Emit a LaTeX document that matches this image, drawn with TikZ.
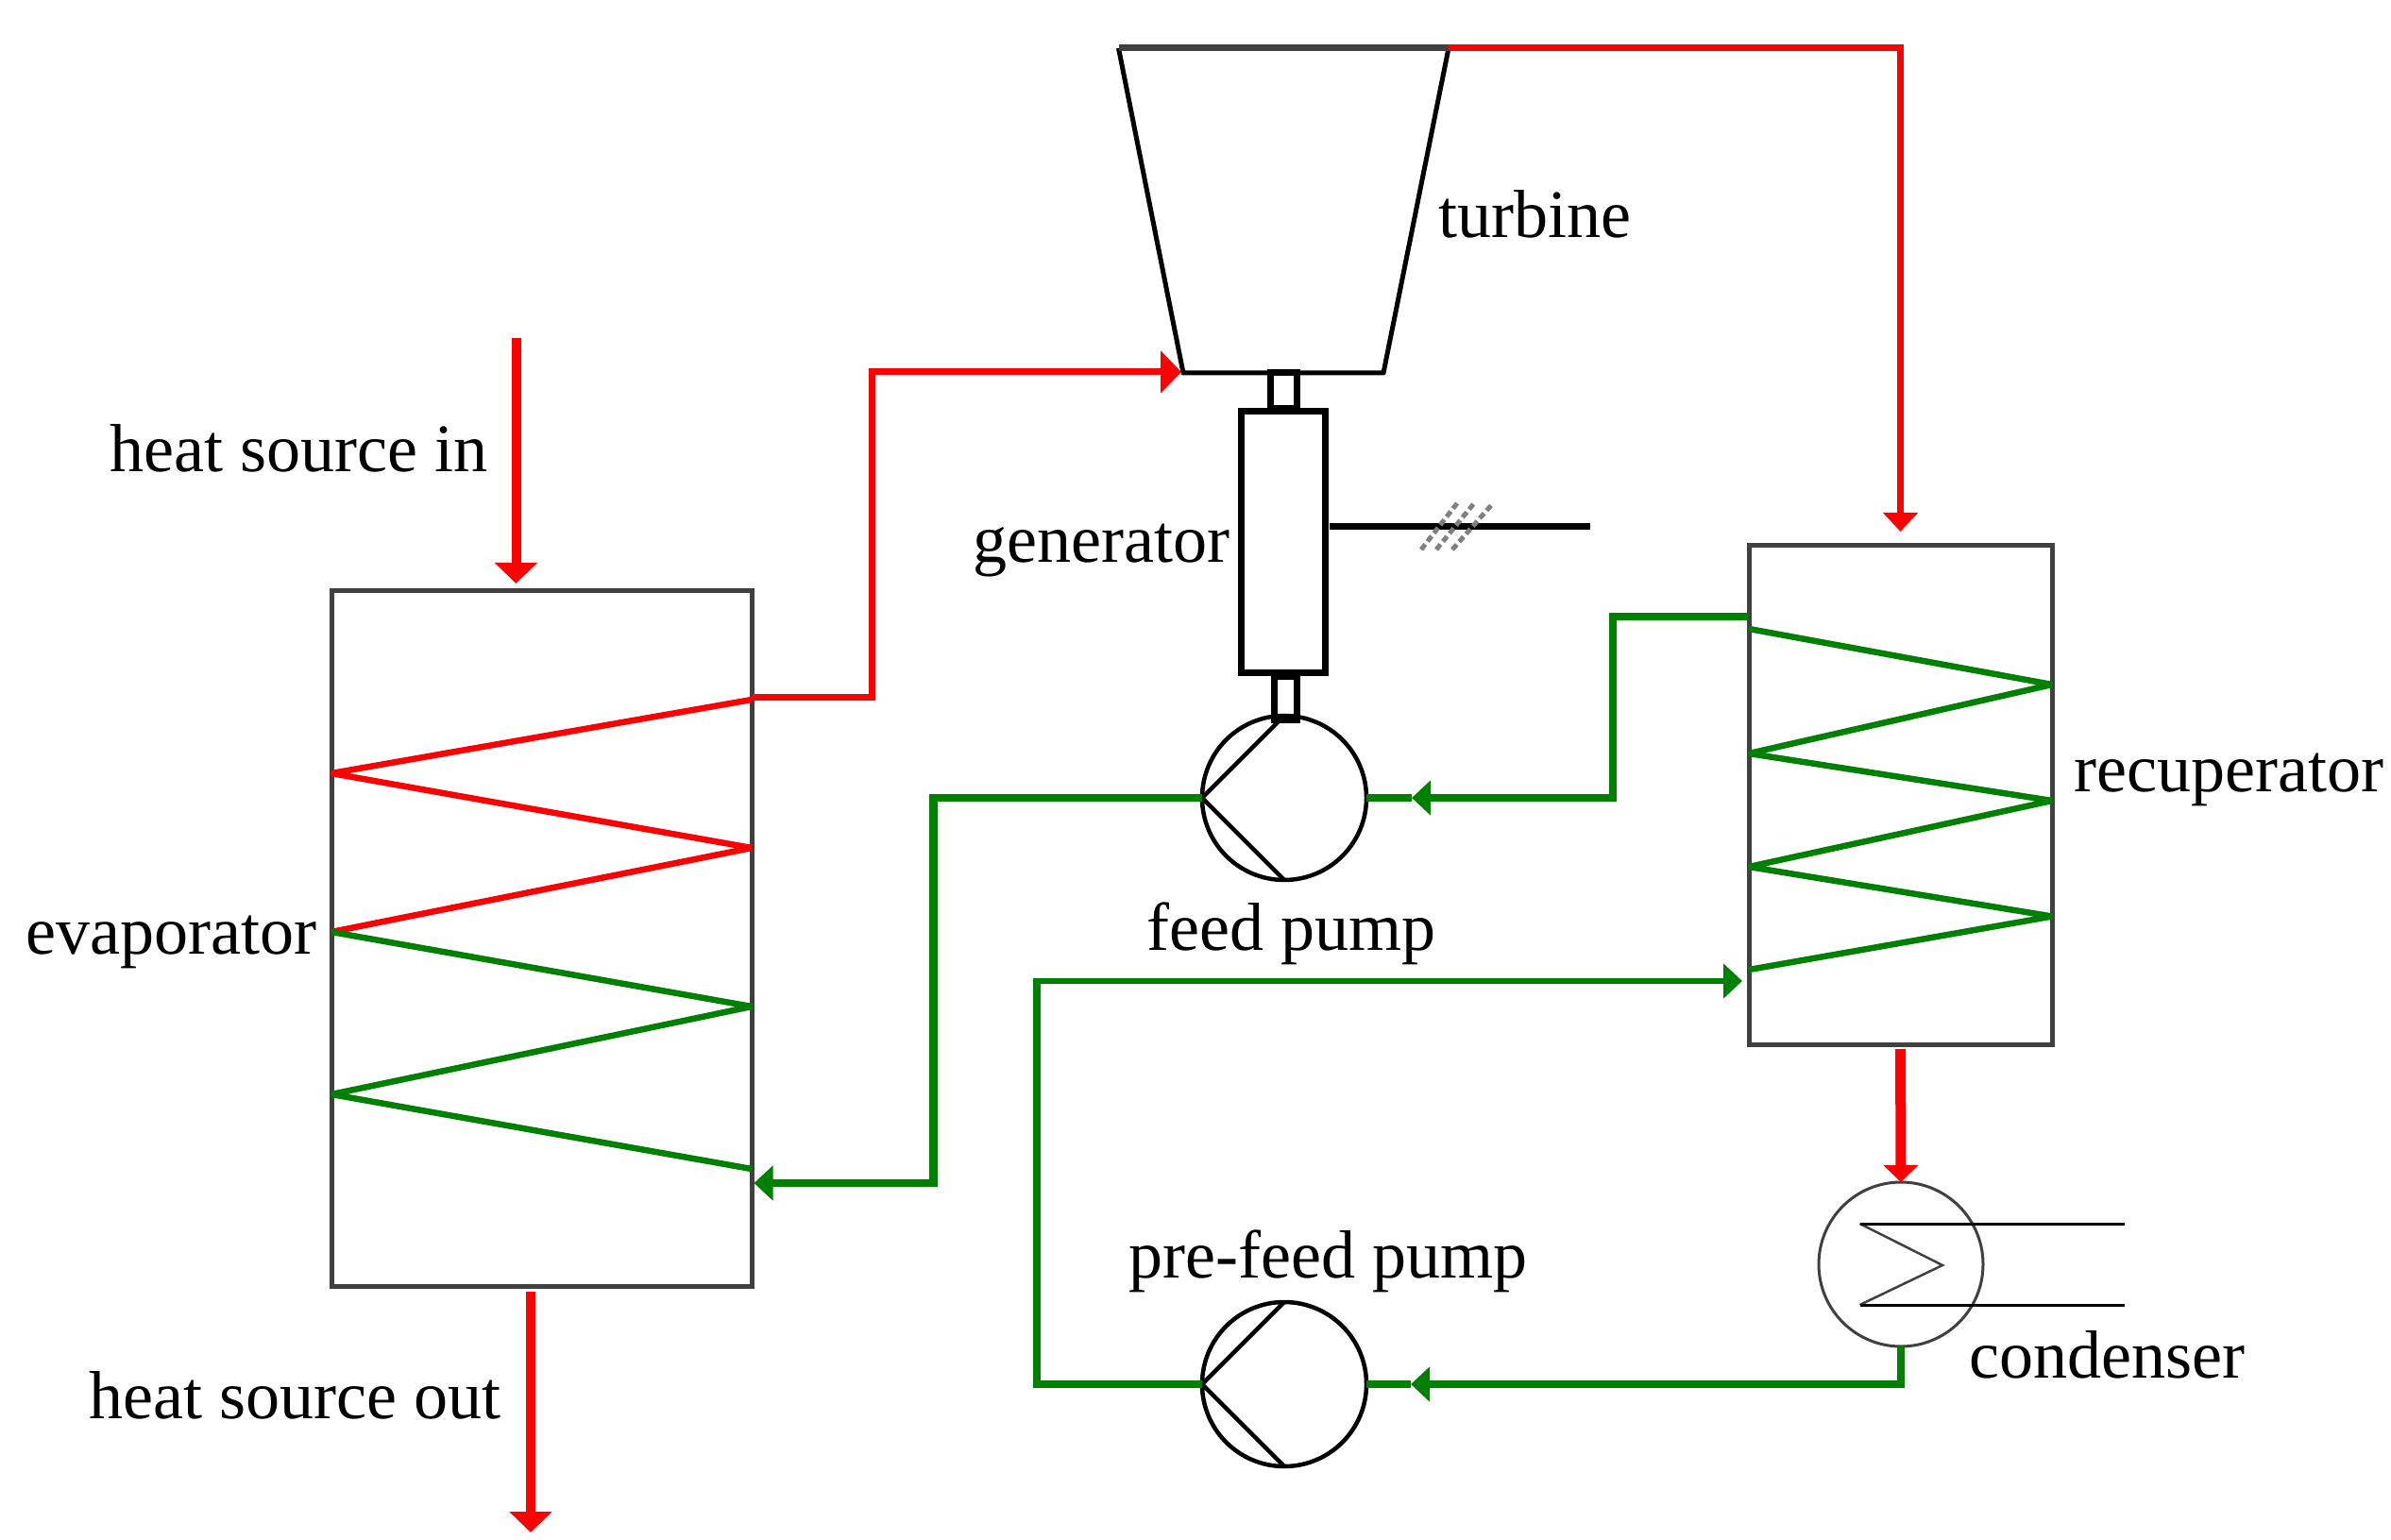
\documentclass[tikz,border=0pt]{standalone}
\usepackage{fontspec}
\setmainfont{Liberation Serif}
\usetikzlibrary{arrows.meta}
\definecolor{pipegreen}{RGB}{0,128,0}
\definecolor{boxgray}{RGB}{64,64,64}
\tikzset{
	unit/.style={draw=boxgray,line width=0.05cm,inner sep=0pt,outer sep=0pt},
	machine/.style={draw=black,line width=0.07cm,inner sep=0pt,outer sep=0pt},
	pumpcircle/.style={circle,draw=black,line width=0.045cm,minimum size=1.74cm,inner sep=0pt,outer sep=0pt},
	label/.style={anchor=base west,inner sep=0pt,font=\fontsize{20.5}{24}\selectfont},
	redpipe/.style={red,line width=0.07cm},
	greenpipe/.style={pipegreen,line width=0.085cm},
	coil/.style={line width=0.065cm,line join=bevel},
	redtip/.style={-{Triangle[length=0.22cm,width=0.44cm]}},
	greentip/.style={-{Triangle[length=0.2cm,width=0.36cm]}},
	hatch/.style={gray,line width=0.05cm,dash pattern=on 0.07cm off 0.04cm}
}
\begin{document}
\begin{tikzpicture}
	\useasboundingbox (0,0) rectangle (25.32,16.30);
	\node[unit,minimum width=4.45cm,minimum height=7.36cm] (evap) at (5.735,6.36) {};
	\node[unit,minimum width=3.21cm,minimum height=5.28cm] (recup) at (20.125,7.88) {};
	\node[machine,minimum width=0.89cm,minimum height=2.76cm] (gen) at (13.59,10.56) {};
	\node[machine,minimum width=0.28cm,minimum height=0.38cm] (upshaft) at (13.59,12.16) {};
	\node[machine,minimum width=0.24cm,minimum height=0.46cm] (lowshaft) at (13.61,8.91) {};
	\node[pumpcircle] (fpump) at (13.60,7.85) {};
	\node[pumpcircle] (ppump) at (13.60,1.64) {};
	\node[circle,draw=boxgray,line width=0.03cm,minimum size=1.74cm,inner sep=0pt,outer sep=0pt] (cond) at (20.13,2.91) {};

	\coordinate (turbtl) at (11.845,15.79);
	\coordinate (turbtr) at (15.34,15.79);
	\coordinate (turbbr) at (14.65,12.35);
	\coordinate (turbbl) at (12.53,12.35);
	\coordinate (turbin) at (12.51,12.36);
	\coordinate (hsin) at (5.465,12.72);
	\coordinate (hsout) at (5.62,0.07);
	\coordinate (pwrend) at (16.84,10.72);
	\coordinate (ftip) at (14.95,7.85);
	\coordinate (ptip) at (14.94,1.64);
	\coordinate (pcorner) at (10.98,5.91);
	\coordinate (rtip) at (18.45,5.91);

	\draw[black,line width=0.05cm,line join=round] (turbtr) -- (turbbr) -- (turbbl) -- (turbtl);
	\draw[boxgray,line width=0.07cm] (turbtl) -- (turbtr);

	\draw[black,line width=0.045cm] (fpump.north) -- (fpump.west) -- (fpump.south);
	\draw[black,line width=0.045cm] (ppump.north) -- (ppump.west) -- (ppump.south);

	\draw[boxgray,line width=0.025cm] (19.695,3.34) -- (20.57,2.90) -- (19.695,2.48);
	\draw[black,line width=0.03cm] (19.695,3.34) -- (22.50,3.34);
	\draw[black,line width=0.03cm] (19.695,2.48) -- (22.50,2.48);

	\draw[black,line width=0.07cm,shorten <=0.04cm] (gen.east |- pwrend) -- (pwrend);
	\draw[hatch] (15.05,10.48) -- (15.43,10.97);
	\draw[hatch] (15.21,10.48) -- (15.61,10.97);
	\draw[hatch] (15.38,10.48) -- (15.81,10.97);

	\draw[red,coil] (evap.east |- 0,8.89) -- (evap.west |- 0,8.11) -- (evap.east |- 0,7.32) -- (evap.west |- 0,6.43);
	\draw[pipegreen,coil] (evap.west |- 0,6.43) -- (evap.east |- 0,5.64) -- (evap.west |- 0,4.71) -- (evap.east |- 0,3.92);
	\draw[pipegreen,coil] (recup.west |- 0,9.64) -- (recup.east |- 0,9.05) -- (recup.west |- 0,8.32) -- (recup.east |- 0,7.82) -- (recup.west |- 0,7.12) -- (recup.east |- 0,6.595) -- (recup.west |- 0,6.03);

	\draw[red,line width=0.1cm,redtip,shorten >=0.08cm] (hsin) -- (hsin |- evap.north);
	\draw[red,line width=0.1cm,redtip] (hsout |- 2.62,2.62) -- (hsout);
	\draw[redpipe,redtip] (evap.east |- 0,8.92) -- (9.23,8.92) |- (turbin);
	\draw[redpipe,-{Triangle[length=0.2cm,width=0.36cm]},shorten >=0.15cm] (turbtr) -| (recup.north);
	\draw[red,line width=0.11cm,-{Triangle[length=0.18cm,width=0.36cm]},shorten <=0.05cm] (recup.south) -- (cond.north);

	\draw[greenpipe,greentip] (recup.west |- 0,9.77) -- (17.08,9.77) |- (ftip);
	\draw[greenpipe] (ftip) -- (fpump.east);
	\draw[greenpipe,greentip] (fpump.west) -- (9.885,7.85) |- (7.985,3.77);
	\draw[greenpipe,greentip] (cond.south) |- (ptip);
	\draw[greenpipe] (ptip) -- (ppump.east);
	\draw[greenpipe,shorten >=-0.03cm] (ppump.west) -| (pcorner);
	\draw[pipegreen,line width=0.06cm,greentip,shorten <=-0.04cm] (pcorner) -- (rtip);

	\node[label] (lhsin) at (1.16,11.30) {heat source in};
	\node[label] (lhsout) at (0.94,1.28) {heat source out};
	\node[label] (levap) at (0.27,6.20) {evaporator};
	\node[label] (lgen) at (10.30,10.34) {generator};
	\node[label] (lturb) at (15.23,13.78) {turbine};
	\node[label] (lrecup) at (21.96,7.92) {recuperator};
	\node[label] (lcond) at (20.845,1.71) {condenser};
	\node[label] (lfpump) at (12.14,6.24) {feed pump};
	\node[label] (lppump) at (11.95,2.77) {pre-feed pump};
\end{tikzpicture}
\end{document}
